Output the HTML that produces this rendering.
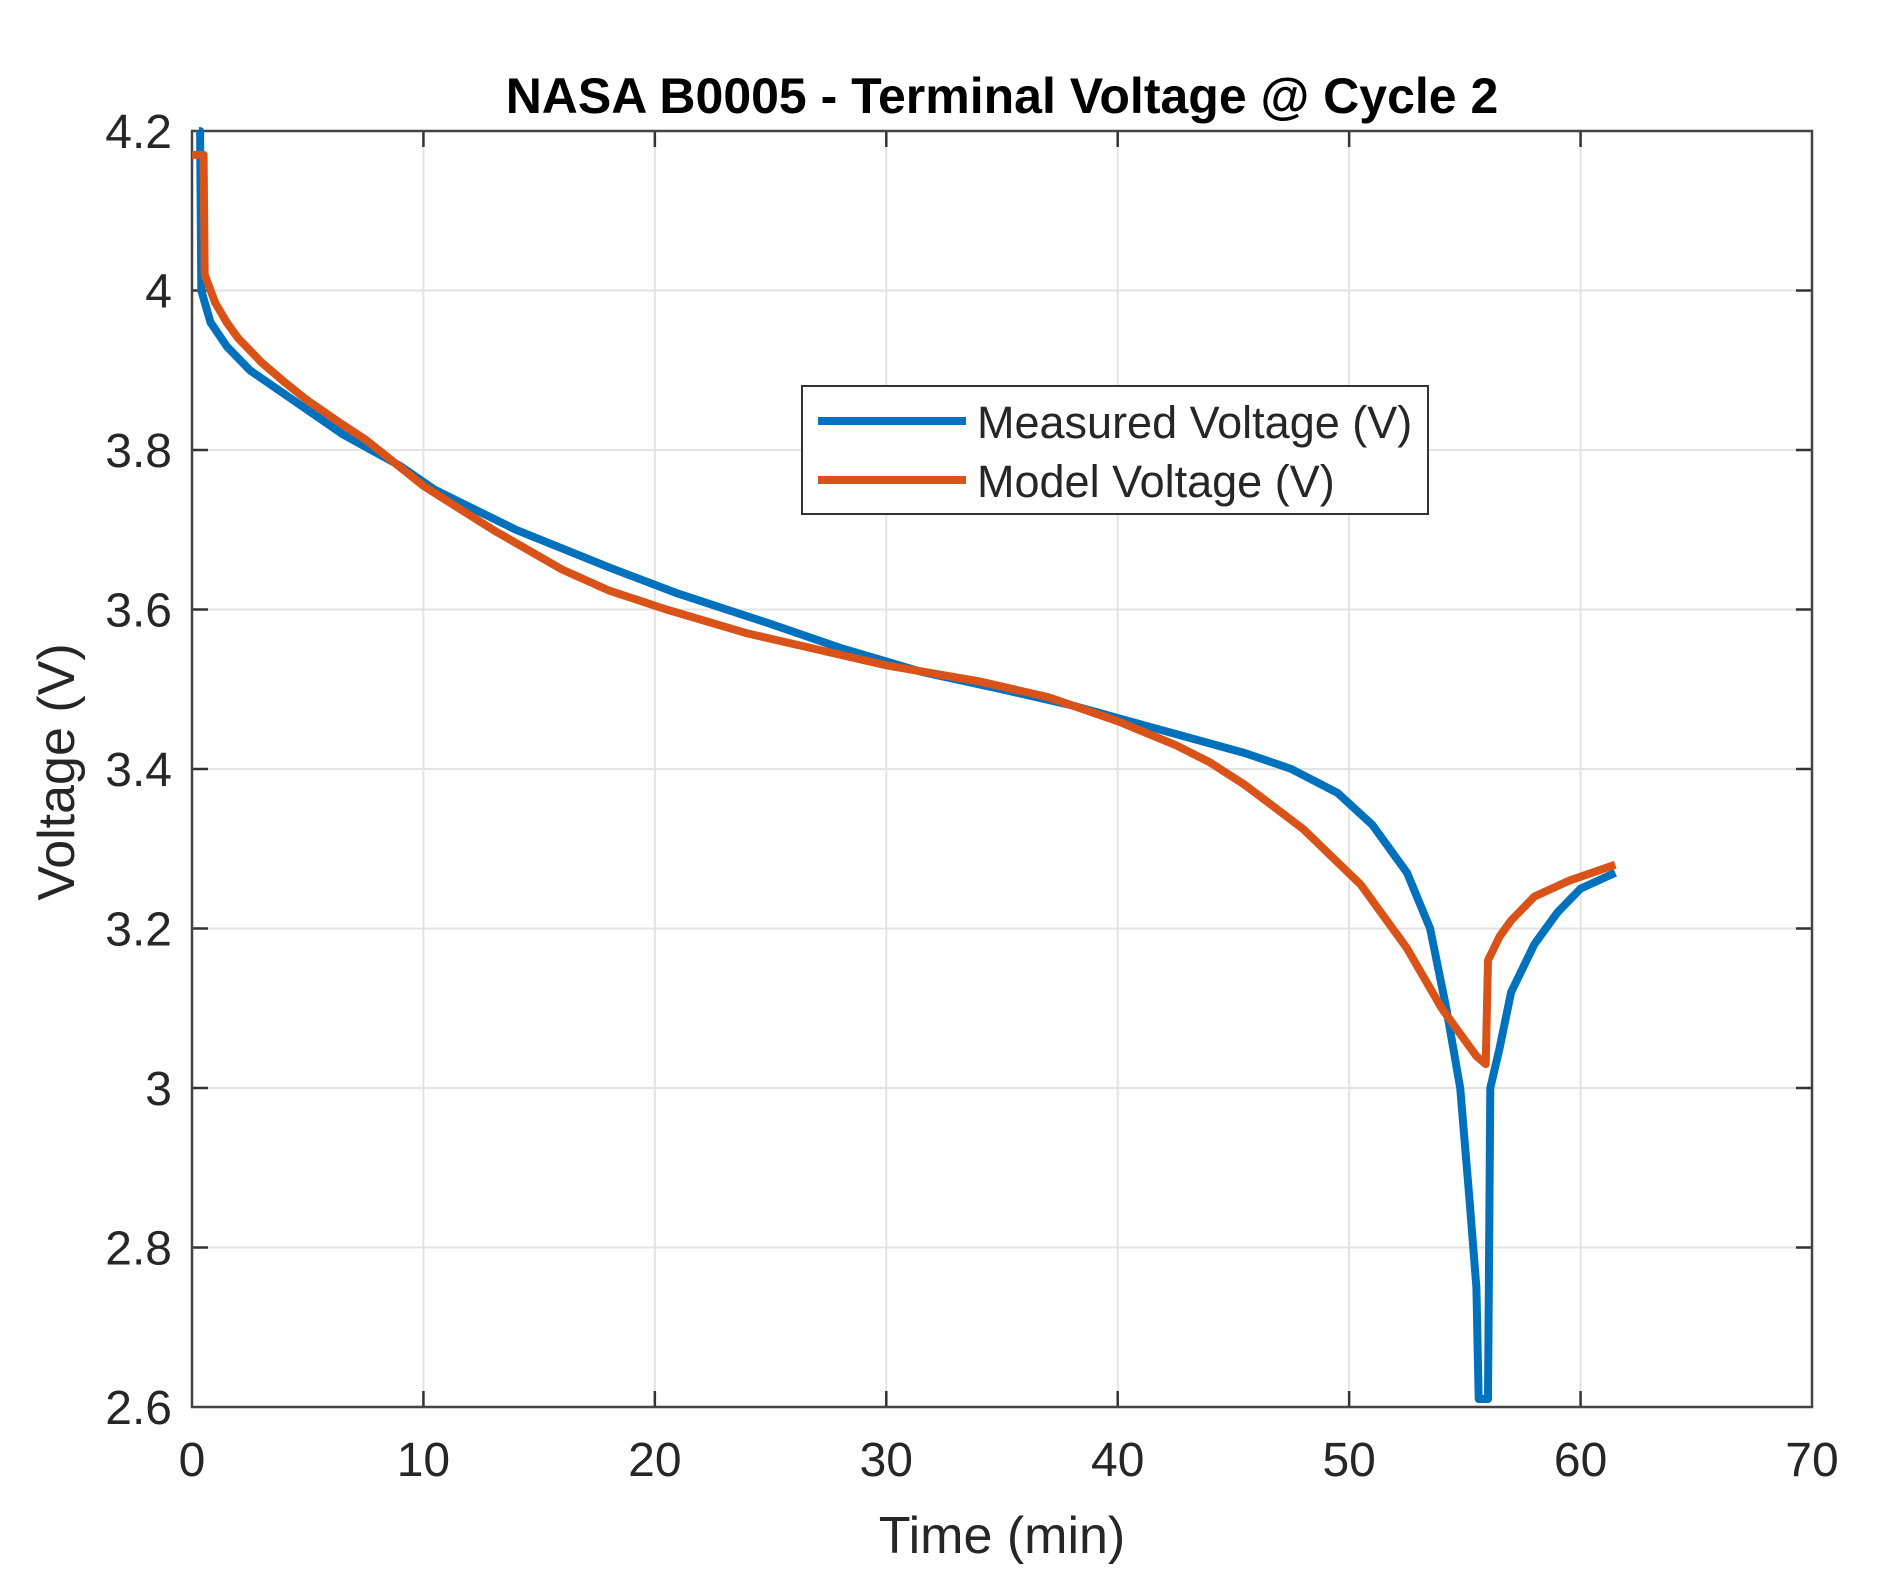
<!DOCTYPE html>
<html><head><meta charset="utf-8"><style>
html,body{margin:0;padding:0;background:#fff;}
svg{display:block;}
text{font-family:"Liberation Sans",Arial,sans-serif;fill:#262626;}
</style></head><body>
<svg id="s" width="1886" height="1589" viewBox="0 0 1886 1589" xmlns="http://www.w3.org/2000/svg">
<rect width="1886" height="1589" fill="#fff"/>
<g id="grid" stroke="#e3e3e3" stroke-width="2"></g>
<g id="ticks" stroke="#333" stroke-width="2.5"></g>
<rect x="192" y="131" width="1620" height="1276" fill="none" stroke="#444" stroke-width="2.5"/>
<g id="lbl" font-size="48"></g>
<polyline id="meas" fill="none" stroke="#0072BD" stroke-width="8" stroke-linejoin="round"/>
<polyline id="mod" fill="none" stroke="#D95319" stroke-width="8" stroke-linejoin="round"/>
<text x="1002" y="113" font-size="50" font-weight="bold" text-anchor="middle" style="fill:#000">NASA B0005 - Terminal Voltage @ Cycle 2</text>
<text x="1002" y="1553" font-size="52" text-anchor="middle">Time (min)</text>
<text transform="translate(74,772) rotate(-90)" font-size="52" text-anchor="middle">Voltage (V)</text>
<rect x="802" y="386" width="626" height="128" fill="#fff" stroke="#333" stroke-width="2"/>
<line x1="818" y1="421" x2="966" y2="421" stroke="#0072BD" stroke-width="8"/>
<line x1="818" y1="480" x2="966" y2="480" stroke="#D95319" stroke-width="8"/>
<text x="977" y="438" font-size="45">Measured Voltage (V)</text>
<text x="977" y="497" font-size="45">Model Voltage (V)</text>
</svg>
<script>
var L=192,R=1812,T=131,B=1407;
function X(t){return L+(t/70)*(R-L);} function Y(v){return B-(v-2.6)/1.6*(B-T);}
var ns="http://www.w3.org/2000/svg";
function el(p,n,a,txt){var e=document.createElementNS(ns,n);for(var k in a)e.setAttribute(k,a[k]);if(txt!==undefined)e.textContent=txt;document.getElementById(p).appendChild(e);}
for(var t=10;t<70;t+=10){el('grid','line',{x1:X(t),x2:X(t),y1:T,y2:B});el('ticks','line',{x1:X(t),x2:X(t),y1:B,y2:B-16});el('ticks','line',{x1:X(t),x2:X(t),y1:T,y2:T+16});}
for(var i=1;i<8;i++){var v=2.6+i*0.2;el('grid','line',{x1:L,x2:R,y1:Y(v),y2:Y(v)});el('ticks','line',{x1:L,x2:L+16,y1:Y(v),y2:Y(v)});el('ticks','line',{x1:R,x2:R-16,y1:Y(v),y2:Y(v)});}
for(var t=0;t<=70;t+=10)el('lbl','text',{x:X(t),y:1476,'text-anchor':'middle'},String(t));
var yl=['2.6','2.8','3','3.2','3.4','3.6','3.8','4','4.2'];
for(var i=0;i<9;i++)el('lbl','text',{x:172,y:Y(2.6+i*0.2)+17,'text-anchor':'end'},yl[i]);
var m=[[0.3,4.2],[0.35,4.2],[0.4,4.0],[0.5,3.99],[0.8,3.96],[1.5,3.93],[2.5,3.9],[4,3.87],[6.5,3.82],[9,3.78],[10.5,3.75],[14,3.7],[18,3.653],[21,3.62],[25,3.582],[28,3.552],[31.5,3.522],[35,3.5],[38,3.48],[40.5,3.46],[43,3.44],[45.5,3.42],[47.5,3.4],[49.5,3.37],[51,3.33],[52.5,3.27],[53.5,3.2],[54.2,3.1],[54.8,3.0],[55.2,2.86],[55.5,2.75],[55.6,2.61],[56,2.61],[56.1,3.0],[56.5,3.05],[57,3.12],[58,3.18],[59,3.22],[60,3.25],[61.5,3.27]];
var d=[[0,4.17],[0.5,4.17],[0.55,4.02],[1,3.985],[1.5,3.96],[2,3.94],[3,3.91],[4,3.885],[5,3.862],[6.5,3.832],[7.5,3.813],[10,3.755],[13,3.7],[16,3.65],[18,3.624],[20.5,3.6],[24,3.57],[27,3.55],[30,3.53],[34,3.51],[37,3.49],[40,3.46],[42.5,3.43],[44,3.408],[45.5,3.38],[48,3.325],[50.5,3.255],[52.5,3.175],[54,3.1],[55.5,3.04],[55.9,3.03],[56,3.16],[56.5,3.19],[57,3.21],[58,3.24],[59.5,3.26],[61.5,3.28]];
function pts(a){return a.map(function(p){return X(p[0]).toFixed(1)+','+Y(p[1]).toFixed(1);}).join(' ');}
document.getElementById('meas').setAttribute('points',pts(m));
document.getElementById('mod').setAttribute('points',pts(d));
</script>
</body></html>
